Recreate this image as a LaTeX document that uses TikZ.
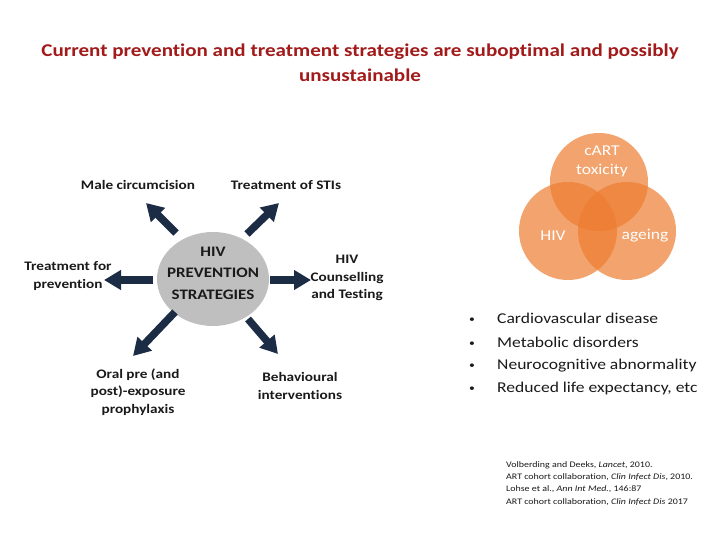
\documentclass[tikz,border=0pt]{standalone}
\usepackage{fontspec}
\setmainfont{Carlito}[FakeStretch=1.17, Ligatures=NoCommon]
\usetikzlibrary{arrows.meta,backgrounds,shapes.geometric}
\definecolor{titlered}{HTML}{A31A1A}
\definecolor{navy}{HTML}{1D2C45}
\definecolor{venn}{HTML}{ED7D31}
\definecolor{greyc}{HTML}{BFBFBF}
\definecolor{txt}{HTML}{1A1A1A}
\begin{document}
\begin{tikzpicture}[x=1pt,y=-1pt,
  lbl/.style={font=\fontsize{13}{17.5}\selectfont\bfseries, text=txt, align=center, inner sep=0pt},
  bigarrow/.style={navy, line width=7.5pt, -{Triangle[width=19pt,length=17pt]}},
  venncirc/.style={circle, minimum size=98pt, fill=venn, fill opacity=0.7, inner sep=0pt},
  venntxt/.style={text=white, font=\fontsize{15}{19}\selectfont, align=center, inner sep=0pt},
  bul/.style={font=\fontsize{15}{18}\selectfont, anchor=base west, inner sep=0pt, text=txt},
  bdot/.style={font=\fontsize{10}{12}\selectfont, anchor=base west, inner sep=0pt, text=txt},
  refs/.style={font=\fontsize{8.5}{12.3}\selectfont, anchor=north west, align=left, inner sep=0pt, text=txt}]
\begin{scope}[on background layer]
\fill[white, use as bounding box] (0,0) rectangle (720,540);
\end{scope}

% title
\node[font=\fontsize{18}{25}\selectfont\bfseries, text=titlered, align=center] (title) at (360,63)
  {Current prevention and treatment strategies are suboptimal and possibly\\unsustainable};

% central ellipse
\node[ellipse, fill=greyc, minimum width=112pt, minimum height=94pt, inner sep=0pt] (hiv) at (213,279) {};
\node[font=\fontsize{14.5}{21.5}\selectfont\bfseries, text=txt, align=center, inner sep=0pt] (hivtxt) at (213,273)
  {HIV\\PREVENTION\\STRATEGIES};

% arrow ends
\coordinate (s1) at (176,233); \coordinate (t1) at (146,203);
\coordinate (s2) at (247,234); \coordinate (t2) at (279,203);
\coordinate (s3) at (153,280); \coordinate (t3) at (104,280);
\coordinate (s4) at (270,280); \coordinate (t4) at (311,280);
\coordinate (s5) at (175,312); \coordinate (t5) at (133,356);
\coordinate (s6) at (248,319); \coordinate (t6) at (278,354);
\foreach \i in {1,...,6} \draw[bigarrow] (s\i) -- (t\i);

% labels
\node[lbl] (male) at (138,185) {Male circumcision};
\node[lbl] (sti) at (286,185) {Treatment of STIs};
\node[lbl] (tfp) at (68,276) {Treatment for\\prevention};
\node[lbl] (hct) at (347,278) {HIV\\Counselling\\and Testing};
\node[lbl] (prep) at (138,392) {Oral pre (and\\post)-exposure\\prophylaxis};
\node[lbl] (beh) at (300,386) {Behavioural\\interventions};

% venn
\node[venncirc] (vtop) at (599,182) {};
\node[venncirc] (vleft) at (568,231) {};
\node[venncirc] (vright) at (627,231) {};
\node[venntxt] (cart) at (602,161) {cART\\toxicity};
\node[venntxt] (vhiv) at (553,236) {HIV};
\node[venntxt] (vage) at (645,236) {ageing};

% bullets
\foreach \y/\s [count=\i] in {323/Cardiovascular disease, 347/Metabolic disorders, 369/Neurocognitive abnormality, 392/{Reduced life expectancy, etc}} {
  \node[bdot] (b\i) at (469,\y-1) {•};
  \node[bul] (l\i) at (497,\y) {\s};
}

% references
\node[refs] (refs) at (506,461)
  {Volberding and Deeks, \textit{Lancet}, 2010.\\
   ART cohort collaboration, \textit{Clin Infect Dis}, 2010.\\
   Lohse et al., \textit{Ann Int Med.}, 146:87\\
   ART cohort collaboration, \textit{Clin Infect Dis} 2017};
\end{tikzpicture}
\end{document}
